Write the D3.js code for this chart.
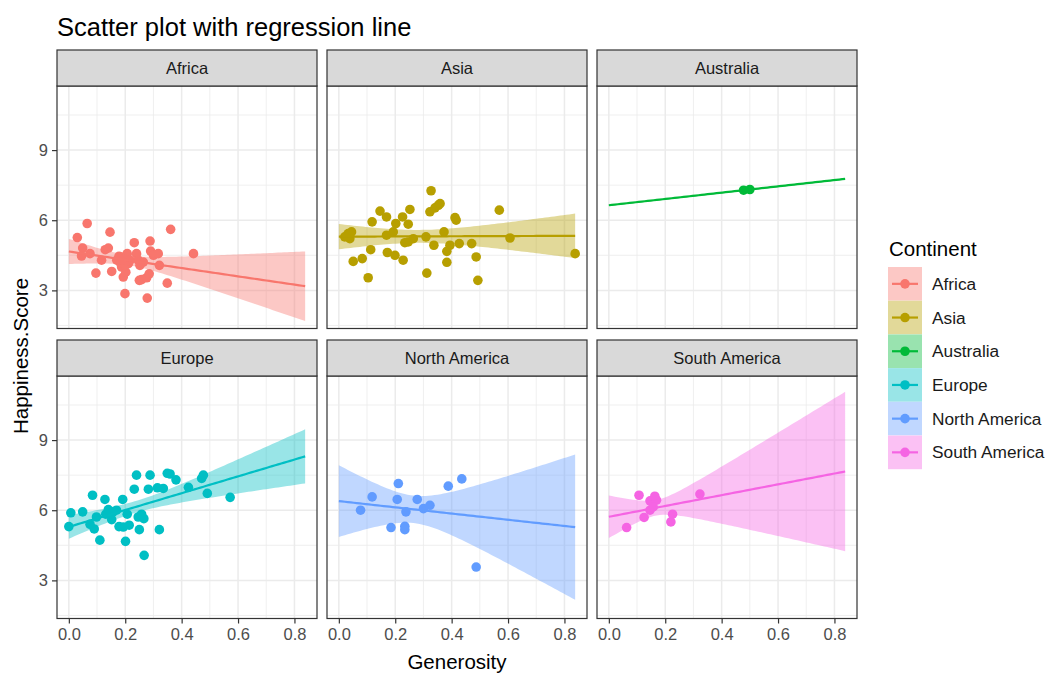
<!DOCTYPE html>
<html>
<head>
<meta charset="utf-8">
<script src="https://cdn.jsdelivr.net/npm/d3@7"></script>
<style>
  body { margin: 0; background: #fff; }
  text { font-family: "Liberation Sans", Arial, sans-serif; }
</style>
</head>
<body>
<svg id="chart" width="1049" height="673"></svg>
<script>
// continents, in facet / legend order
var continents = ['Africa', 'Asia', 'Australia', 'Europe', 'North America', 'South America'];
var colors = ['#F8766D', '#B79F00', '#00BA38', '#00BFC4', '#619CFF', '#F564E3'];

// [generosity, happiness score]
var africa = [[0.030,5.26],[0.065,5.86],[0.049,4.81],[0.045,4.47],[0.075,4.57],[0.116,4.29],[0.096,3.74],
  [0.129,4.74],[0.140,4.81],[0.146,5.49],[0.152,3.81],[0.178,4.46],[0.181,4.21],[0.187,4.00],[0.193,3.57],
  [0.199,2.86],[0.202,3.78],[0.211,4.14],[0.217,4.29],[0.232,5.04],[0.240,4.57],[0.246,4.29],[0.250,3.43],
  [0.258,3.46],[0.276,3.54],[0.278,2.67],[0.285,3.71],[0.288,5.11],[0.290,4.68],[0.300,4.50],[0.317,4.57],
  [0.321,4.07],[0.349,3.31],[0.361,5.61],[0.442,4.57],[0.170,4.29],[0.187,4.43],[0.207,4.57],[0.252,4.07],
  [0.264,4.21],[0.199,4.07]];
var asia = [[0.021,5.29],[0.033,5.43],[0.045,5.50],[0.039,5.21],[0.051,4.24],[0.083,4.36],[0.104,3.54],
  [0.113,4.74],[0.118,5.93],[0.146,6.39],[0.169,6.14],[0.169,5.36],[0.172,4.62],[0.193,5.50],[0.199,4.50],
  [0.202,5.86],[0.226,6.14],[0.228,4.29],[0.234,5.04],[0.246,5.83],[0.252,6.46],[0.246,5.07],[0.264,5.21],
  [0.309,5.29],[0.312,3.74],[0.327,7.26],[0.323,6.36],[0.337,4.93],[0.341,6.53],[0.353,6.64],[0.359,6.71],
  [0.373,5.50],[0.383,4.67],[0.383,4.20],[0.394,4.93],[0.412,6.11],[0.416,6.00],[0.427,5.00],[0.471,5.00],
  [0.487,4.43],[0.493,3.43],[0.569,6.43],[0.607,5.24],[0.838,4.57]];
var australia = [[0.4777,7.284],[0.5000,7.314]];
var europe = [[0.000,5.30],[0.007,5.89],[0.049,5.93],[0.075,5.40],[0.084,6.64],[0.090,5.20],[0.098,5.71],
  [0.110,4.72],[0.128,6.46],[0.131,5.83],[0.140,6.03],[0.152,5.60],[0.157,5.93],[0.169,6.00],[0.191,6.46],
  [0.193,5.28],[0.201,4.67],[0.207,5.83],[0.214,5.36],[0.232,6.90],[0.240,7.50],[0.246,5.71],[0.250,5.17],
  [0.258,5.83],[0.266,5.64],[0.267,4.07],[0.282,6.90],[0.288,7.50],[0.314,6.96],[0.321,5.17],[0.335,6.93],
  [0.349,7.58],[0.359,7.55],[0.380,7.30],[0.424,6.98],[0.471,7.36],[0.477,7.50],[0.491,6.72],[0.572,6.55],
  [0.178,5.30]];
var northAmerica = [[0.077,6.00],[0.118,6.57],[0.185,5.26],[0.207,6.46],[0.211,7.14],[0.234,5.31],[0.234,5.17],
  [0.238,5.93],[0.278,6.46],[0.300,6.07],[0.323,6.21],[0.388,7.03],[0.436,7.34],[0.487,3.57]];
var southAmerica = [[0.063,5.26],[0.107,6.64],[0.125,5.69],[0.146,6.00],[0.146,6.40],[0.163,6.60],[0.169,6.43],
  [0.157,6.14],[0.220,5.50],[0.226,5.83],[0.323,6.69]];
var groups = [africa, asia, australia, europe, northAmerica, southAmerica];

var xTicks = [0, 0.2, 0.4, 0.6, 0.8];
var xMinor = [0.1, 0.3, 0.5, 0.7];
var yTicks = [3, 6, 9];
var yMinor = [1.5, 4.5, 7.5, 10.5];

var svg = d3.select('#chart');
var panelW = 260, panelH = 242.5, stripH = 36;
var panelX = [57, 327, 597], panelY = [86, 376];

var x = d3.scaleLinear().domain([-0.042, 0.880]).range([0, panelW]);
var y = d3.scaleLinear().domain([1.37, 11.74]).range([panelH, 0]);

// t quantile 0.975 (Cornish-Fisher expansion)
function t975(df) {
    var z = 1.959964;
    return z + (Math.pow(z, 3) + z) / (4 * df)
        + (5 * Math.pow(z, 5) + 16 * Math.pow(z, 3) + 3 * z) / (96 * df * df)
        + (3 * Math.pow(z, 7) + 19 * Math.pow(z, 5) + 17 * Math.pow(z, 3) - 15 * z) / (384 * df * df * df);
}

var allX = [].concat.apply([], groups).map(function (d) { return d[0]; });
var fitRange = d3.extent(allX);

function fit(pts) {
    var n = pts.length,
        mx = d3.mean(pts, function (d) { return d[0]; }),
        my = d3.mean(pts, function (d) { return d[1]; }),
        sxx = d3.sum(pts, function (d) { return (d[0] - mx) * (d[0] - mx); }),
        sxy = d3.sum(pts, function (d) { return (d[0] - mx) * (d[1] - my); }),
        b = sxy / sxx, a = my - b * mx,
        sse = d3.sum(pts, function (d) { var r = d[1] - a - b * d[0]; return r * r; }),
        s = n > 2 ? Math.sqrt(sse / (n - 2)) : NaN,
        tq = n > 2 ? t975(n - 2) : NaN;
    return d3.range(80).map(function (i) {
        var xv = fitRange[0] + (fitRange[1] - fitRange[0]) * i / 79,
            yv = a + b * xv,
            se = s * Math.sqrt(1 / n + (xv - mx) * (xv - mx) / sxx);
        return { x: xv, y: yv, lo: yv - tq * se, hi: yv + tq * se };
    });
}

var line = d3.line().x(function (d) { return x(d.x); }).y(function (d) { return y(d.y); });
var band = d3.area().x(function (d) { return x(d.x); })
    .y0(function (d) { return y(d.lo); }).y1(function (d) { return y(d.hi); });

// title
svg.append('text')
    .attr('x', 57).attr('y', 36)
    .style('font-size', '25.5px').attr('fill', '#000')
    .text('Scatter plot with regression line');

continents.forEach(function (name, i) {
    var col = i % 3, row = Math.floor(i / 3),
        px = panelX[col], py = panelY[row],
        color = colors[i], pts = groups[i];

    var g = svg.append('g').attr('transform', 'translate(' + px + ',' + py + ')');

    g.append('rect').attr('width', panelW).attr('height', panelH).attr('fill', '#fff');

    g.selectAll('.vminor').data(xMinor).enter().append('line')
        .attr('x1', x).attr('x2', x).attr('y1', 0).attr('y2', panelH)
        .attr('stroke', '#EBEBEB').attr('stroke-width', 0.8);
    g.selectAll('.hminor').data(yMinor).enter().append('line')
        .attr('y1', y).attr('y2', y).attr('x1', 0).attr('x2', panelW)
        .attr('stroke', '#EBEBEB').attr('stroke-width', 0.8);
    g.selectAll('.vmajor').data(xTicks).enter().append('line')
        .attr('x1', x).attr('x2', x).attr('y1', 0).attr('y2', panelH)
        .attr('stroke', '#EBEBEB').attr('stroke-width', 1.5);
    g.selectAll('.hmajor').data(yTicks).enter().append('line')
        .attr('y1', y).attr('y2', y).attr('x1', 0).attr('x2', panelW)
        .attr('stroke', '#EBEBEB').attr('stroke-width', 1.5);

    g.selectAll('circle').data(pts).enter().append('circle')
        .attr('cx', function (d) { return x(d[0]); })
        .attr('cy', function (d) { return y(d[1]); })
        .attr('r', 4.8)
        .attr('fill', color);

    var f = fit(pts);
    if (pts.length > 2) {
        g.append('path').datum(f).attr('d', band)
            .attr('fill', color).attr('fill-opacity', 0.4);
    }
    g.append('path').datum(f).attr('d', line)
        .attr('fill', 'none').attr('stroke', color).attr('stroke-width', 2.2);

    g.append('rect').attr('width', panelW).attr('height', panelH)
        .attr('fill', 'none').attr('stroke', '#333').attr('stroke-width', 1.2);

    // strip
    g.append('rect').attr('y', -stripH).attr('width', panelW).attr('height', stripH)
        .attr('fill', '#D9D9D9').attr('stroke', '#333').attr('stroke-width', 1.2);
    g.append('text')
        .attr('x', panelW / 2).attr('y', -stripH / 2 + 6)
        .attr('text-anchor', 'middle')
        .style('font-size', '16.5px').attr('fill', '#1A1A1A')
        .text(name);

    if (col === 0) {
        var ya = g.append('g')
            .call(d3.axisLeft(y).tickValues(yTicks).tickSize(5).tickPadding(4).tickFormat(d3.format('d')));
        ya.select('.domain').remove();
        ya.selectAll('line').attr('stroke', '#333').attr('stroke-width', 1.2);
        ya.selectAll('text').attr('fill', '#4D4D4D').style('font-size', '16.5px')
            .style('font-family', '"Liberation Sans", Arial, sans-serif');
    }
    if (row === 1) {
        var xa = g.append('g').attr('transform', 'translate(0,' + panelH + ')')
            .call(d3.axisBottom(x).tickValues(xTicks).tickSize(5).tickPadding(5).tickFormat(d3.format('.1f')));
        xa.select('.domain').remove();
        xa.selectAll('line').attr('stroke', '#333').attr('stroke-width', 1.2);
        xa.selectAll('text').attr('fill', '#4D4D4D').style('font-size', '16.5px')
            .style('font-family', '"Liberation Sans", Arial, sans-serif');
    }
});

// axis titles
svg.append('text')
    .attr('x', 457).attr('y', 669)
    .attr('text-anchor', 'middle')
    .style('font-size', '20.5px').attr('fill', '#000')
    .text('Generosity');
svg.append('text')
    .attr('transform', 'translate(28,356) rotate(-90)')
    .attr('text-anchor', 'middle')
    .style('font-size', '20.5px').attr('fill', '#000')
    .text('Happiness.Score');

// legend
var legend = svg.append('g').attr('transform', 'translate(888,0)');
legend.append('text')
    .attr('x', 1).attr('y', 256)
    .style('font-size', '20.5px').attr('fill', '#000')
    .text('Continent');
var keyH = 33.7, keyTop = 267;
continents.forEach(function (name, i) {
    var ky = keyTop + i * keyH;
    legend.append('rect').attr('x', 0).attr('y', ky).attr('width', 34).attr('height', keyH)
        .attr('fill', '#fff');
    legend.append('rect').attr('x', 0).attr('y', ky).attr('width', 34).attr('height', keyH)
        .attr('fill', colors[i]).attr('fill-opacity', 0.4);
    legend.append('line').attr('x1', 4).attr('x2', 30).attr('y1', ky + keyH / 2).attr('y2', ky + keyH / 2)
        .attr('stroke', colors[i]).attr('stroke-width', 2.2);
    legend.append('circle').attr('cx', 17).attr('cy', ky + keyH / 2).attr('r', 4.8)
        .attr('fill', colors[i]);
    legend.append('text')
        .attr('x', 44).attr('y', ky + keyH / 2 + 6)
        .style('font-size', '17.3px').attr('fill', '#1A1A1A')
        .text(name);
});
</script>
</body>
</html>
